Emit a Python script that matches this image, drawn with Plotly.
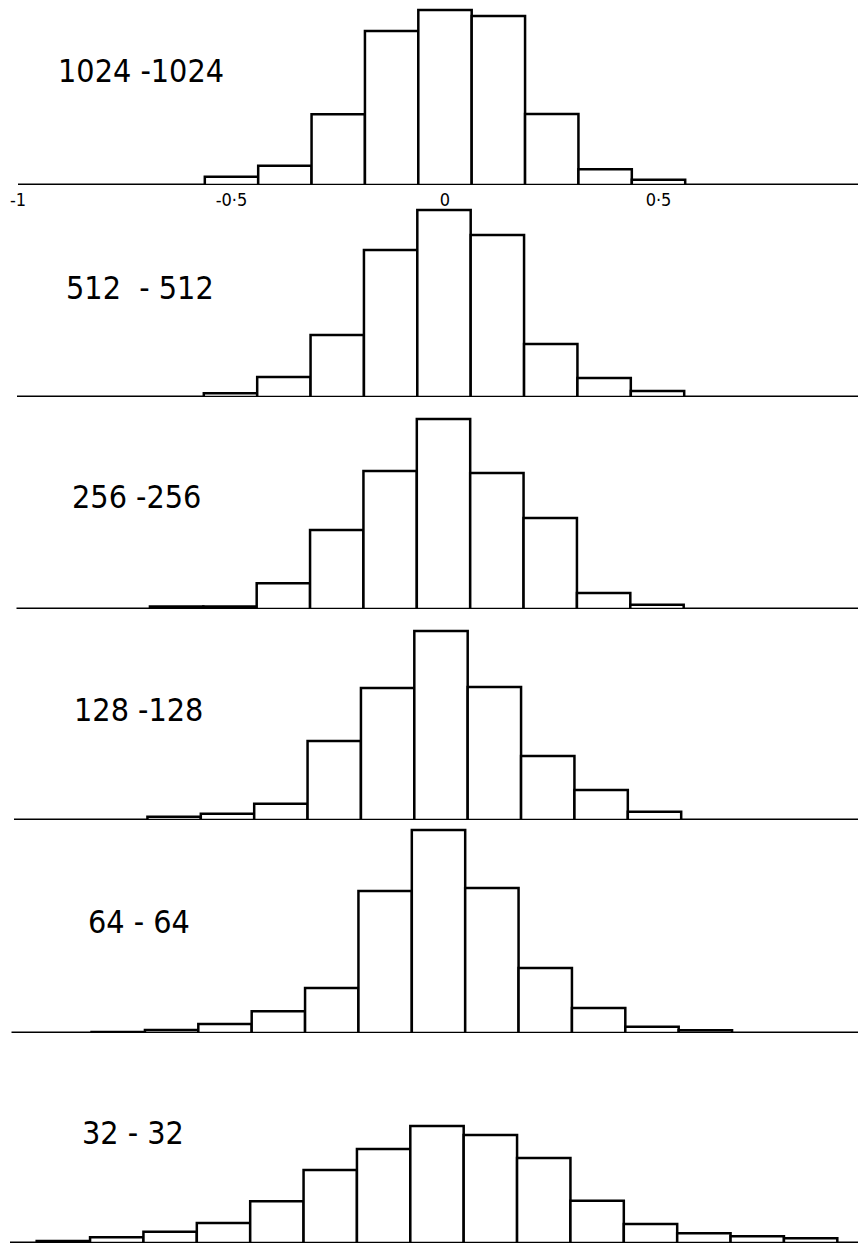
import plotly.graph_objects as go

# ---- data ----
panel_labels = ["1024 -1024", "512  - 512", "256 -256", "128 -128", "64 - 64", "32 - 32"]
bin_width = 0.125

bins_1024 = [-4, -3, -2, -1, 0, 1, 2, 3, 4]
counts_1024 = [8.3, 19.3, 70.7, 154, 175, 169, 71, 15.7, 5.3]

bins_512 = [-4, -3, -2, -1, 0, 1, 2, 3, 4]
counts_512 = [3.7, 20, 62, 147, 187, 162, 53, 19, 6]

bins_256 = [-5, -4, -3, -2, -1, 0, 1, 2, 3, 4]
counts_256 = [2.5, 2.5, 25.7, 79, 138, 190, 136, 91, 16, 4.3]

bins_128 = [-5, -4, -3, -2, -1, 0, 1, 2, 3, 4]
counts_128 = [3.3, 6.3, 16.3, 79, 132, 189, 133, 64, 30, 8.3]

bins_64 = [-6, -5, -4, -3, -2, -1, 0, 1, 2, 3, 4, 5]
counts_64 = [1, 3, 9, 21.7, 45, 142, 203, 145, 65, 25, 6.3, 2.7]

bins_32 = [-7, -6, -5, -4, -3, -2, -1, 0, 1, 2, 3, 4, 5, 6, 7]
counts_32 = [2, 5.7, 11.3, 20, 41.7, 73, 94, 117, 108, 85, 42.3, 19, 9.7, 6.7, 4.7]

tick_vals = [-1, -0.5, 0, 0.5]
tick_text = ["-1", "-0·5", "0", "0·5"]

series = [(bins_1024, counts_1024), (bins_512, counts_512), (bins_256, counts_256),
          (bins_128, counts_128), (bins_64, counts_64), (bins_32, counts_32)]

# ---- layout geometry ----
W, H = 858, 1247
baselines = [185, 397, 609, 820, 1033, 1243]      # pixel row of each panel's axis
zero_px = [445, 444, 443.5, 441, 438.5, 437]       # pixel column of x = 0 in each panel
px_per_unit = 427
label_pos = [(56, 71), (64, 288), (70, 497), (72, 710), (86, 922), (80, 1133)]
panel_h = 210

LABEL_FONT = "DejaVu Sans Condensed, Liberation Sans Narrow, sans-serif"

fig = go.Figure()
layout = dict(
    width=W, height=H, margin=dict(l=0, r=0, t=0, b=0),
    paper_bgcolor="white", plot_bgcolor="rgba(0,0,0,0)",
    showlegend=False, shapes=[], annotations=[],
)

for i, (bins, counts) in enumerate(series):
    n = i + 1
    xa = "x" if n == 1 else f"x{n}"
    ya = "y" if n == 1 else f"y{n}"
    xkey = "xaxis" if n == 1 else f"xaxis{n}"
    ykey = "yaxis" if n == 1 else f"yaxis{n}"

    centers = [b * bin_width for b in bins]
    fig.add_trace(go.Bar(
        x=centers, y=counts, width=bin_width,
        marker=dict(color="white", line=dict(color="black", width=2.5)),
        xaxis=xa, yaxis=ya, hoverinfo="skip",
    ))

    base = baselines[i]
    top_px = max(0, base - panel_h)
    y_dom = [(H - base) / H, (H - top_px) / H]
    y_top = base - top_px

    x_left = -zero_px[i] / px_per_unit
    x_right = (W - zero_px[i]) / px_per_unit

    layout[xkey] = dict(
        domain=[0, 1], range=[x_left, x_right], anchor=ya,
        showgrid=False, zeroline=False, showline=False, ticks="",
        showticklabels=(n == 1), tickvals=tick_vals, ticktext=tick_text,
        tickfont=dict(family=LABEL_FONT, size=18, color="black"),
        ticklabelstandoff=2,
    )
    layout[ykey] = dict(
        domain=y_dom, range=[0, y_top], anchor=xa,
        showgrid=False, zeroline=False, showline=False,
        showticklabels=False, ticks="",
    )
    layout["shapes"].append(dict(
        type="line", xref=xa, yref=ya, x0=-1, x1=x_right, y0=0, y1=0,
        line=dict(color="black", width=3), layer="below",
    ))
    lx, ly = label_pos[i]
    layout["annotations"].append(dict(
        text=panel_labels[i], xref="paper", yref="paper",
        x=lx / W, y=(H - ly) / H, xanchor="left", yanchor="middle",
        showarrow=False, font=dict(family=LABEL_FONT, size=32, color="black"),
    ))

fig.update_layout(**layout)
fig.write_html(
    "out.html",
    config={"displayModeBar": False, "staticPlot": True},
    post_script="document.body.style.margin='0';document.body.style.overflow='hidden';",
)
